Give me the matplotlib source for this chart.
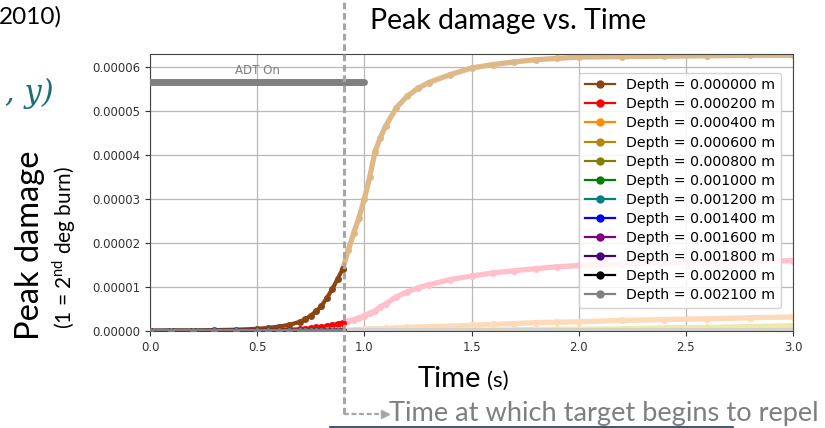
import numpy as np
import matplotlib.pyplot as plt
from matplotlib.lines import Line2D
from matplotlib.ticker import FormatStrFormatter
import matplotlib.transforms as mtransforms

plt.rcParams['font.family'] = 'DejaVu Sans'

W, H = 825, 428
SCALE = 1e-5  # values below are in units of 1e-5

depths = ['0.000000', '0.000200', '0.000400', '0.000600', '0.000800', '0.001000',
          '0.001200', '0.001400', '0.001600', '0.001800', '0.002000', '0.002100']
colors_pre = ['#8B4513', 'red', 'darkorange', 'darkgoldenrod', 'olive', 'green',
              'teal', 'blue', 'purple', 'indigo', 'black', 'gray']
colors_post = ['burlywood', 'pink', 'peachpuff', 'palegoldenrod', 'khaki', 'lightgreen',
               'paleturquoise', 'lightblue', 'plum', 'thistle', 'lightgray', 'lightgray']

# before the target repels
t_pre = [0.0, 0.1, 0.2, 0.3, 0.4, 0.5, 0.55, 0.6, 0.65, 0.7, 0.725, 0.75,
         0.775, 0.8, 0.825, 0.85, 0.875, 0.9]
pre_d0 = [0.0, 0.01, 0.01, 0.02, 0.03, 0.05, 0.07, 0.10, 0.14, 0.21, 0.27, 0.35,
          0.45, 0.57, 0.75, 0.95, 1.18, 1.42]
pre_d1 = [0.0, 0.0, 0.0, 0.0, 0.0, 0.01, 0.01, 0.02, 0.03, 0.04, 0.05, 0.06,
          0.08, 0.09, 0.11, 0.13, 0.16, 0.19]
pre_d2 = [0.0, 0.0, 0.0, 0.0, 0.0, 0.0, 0.0, 0.0, 0.0, 0.01, 0.01, 0.01,
          0.01, 0.01, 0.02, 0.02, 0.02, 0.02]
pre_deep = [0.0] * len(t_pre)

# after the target repels
t_post = [0.9, 0.925, 0.95, 0.975, 1.0, 1.025, 1.05, 1.075, 1.1, 1.15, 1.2, 1.25,
          1.3, 1.4, 1.5, 1.6, 1.7, 1.8, 1.9, 2.0, 2.2, 2.4, 2.6, 2.8, 3.0]
post_d0 = [1.42, 1.84, 2.22, 2.58, 3.00, 3.50, 4.08, 4.40, 4.67, 5.08, 5.34, 5.52,
           5.65, 5.83, 5.98, 6.06, 6.12, 6.17, 6.20, 6.23, 6.24, 6.25, 6.26, 6.27, 6.27]
post_d1 = [0.19, 0.22, 0.26, 0.30, 0.35, 0.40, 0.46, 0.55, 0.62, 0.78, 0.89, 0.98,
           1.05, 1.17, 1.25, 1.32, 1.37, 1.42, 1.46, 1.49, 1.53, 1.55, 1.57, 1.58, 1.60]
post_d2 = [0.02, 0.02, 0.03, 0.03, 0.04, 0.04, 0.05, 0.05, 0.06, 0.07, 0.08, 0.09,
           0.10, 0.11, 0.13, 0.15, 0.17, 0.19, 0.20, 0.21, 0.24, 0.26, 0.28, 0.30, 0.32]
post_d3 = [0.0, 0.0, 0.0, 0.0, 0.0, 0.0, 0.0, 0.0, 0.0, 0.01, 0.01, 0.01,
           0.01, 0.02, 0.02, 0.02, 0.03, 0.03, 0.04, 0.04, 0.05, 0.07, 0.08, 0.10, 0.12]
post_deep = [0.0] * len(t_post)

pre_all = [pre_d0, pre_d1, pre_d2] + [pre_deep] * 9
post_all = [post_d0, post_d1, post_d2, post_d3] + [post_deep] * 8

repel_t = 0.905
adt_level = 5.66
adt_end = 1.0

fig = plt.figure(figsize=(W / 100, H / 100), dpi=100)
ax = fig.add_axes([150 / W, 1 - 331 / H, (793 - 150) / W, (331 - 54) / H])

handles = []
for i in range(len(depths)):
    ax.plot(t_post, np.array(post_all[i]) * SCALE, color=colors_post[i],
            lw=3.8, marker='o', ms=4, zorder=2)
for i in range(len(depths)):
    h, = ax.plot(t_pre, np.array(pre_all[i]) * SCALE, color=colors_pre[i],
                 lw=3, marker='o', ms=4, zorder=3,
                 label='Depth = %s m' % depths[i])
    handles.append(h)

# ADT On bar
ax.plot([0, adt_end], [adt_level * SCALE] * 2, color='gray', lw=5,
        solid_capstyle='round', zorder=3)
ax.text(adt_end / 2, (adt_level + 0.27) * SCALE, 'ADT On', color='gray',
        fontsize=8.5, ha='center', va='center')

ax.set_xlim(0, 3.0)
ax.set_ylim(0, 6.3e-5)
ax.set_xticks([0.0, 0.5, 1.0, 1.5, 2.0, 2.5, 3.0])
ax.set_yticks(np.arange(0, 7) * 1e-5)
ax.yaxis.set_major_formatter(FormatStrFormatter('%.5f'))
ax.xaxis.set_major_formatter(FormatStrFormatter('%.1f'))
ax.tick_params(labelsize=8.5, colors='#333333')
ax.grid(True, color='#b8b8b8', lw=0.9)
for s in ax.spines.values():
    s.set_color('#444444')

leg = ax.legend(handles=handles, loc='upper right', bbox_to_anchor=(0.981, 0.933),
                borderaxespad=0, fontsize=10.2, labelspacing=0.36, framealpha=0.85,
                handlelength=2.1)
for line in leg.get_lines():
    line.set_linewidth(1.6)
    line.set_markersize(5)

# repel marker line
trans = mtransforms.blended_transform_factory(ax.transData, ax.transAxes)
ybot = (331 - 414) / 277
ax.plot([repel_t, repel_t], [ybot, 331 / 277], transform=trans, color='#a6a6a6',
        lw=2.2, ls=(0, (2.2, 1.2)), clip_on=False, zorder=5)
arrow_end = (385 - 150) / 214.3
ax.plot([repel_t, arrow_end], [ybot, ybot], transform=trans, color='#a6a6a6',
        lw=1.6, ls=(0, (2.2, 1.2)), clip_on=False)
ax.plot([arrow_end], [ybot], transform=trans, color='#a6a6a6', marker='>', ms=6,
        clip_on=False)

slide = 'Lato'
fig.text(389 / W, 1 - 413 / H, 'Time at which target begins to repel', family=slide,
         fontsize=19.6, color='#7f7f7f', va='center', ha='left')
fig.text(508 / W, 1 - 21 / H, 'Peak damage vs. Time', family=slide, fontsize=20.5,
         ha='center', va='center')
fig.text(418 / W, 1 - 379 / H, 'Time', family=slide, fontsize=21, ha='left', va='center')
fig.text(487 / W, 1 - 381 / H, '(s)', family=slide, fontsize=16, ha='left', va='center')
fig.text(30 / W, 1 - 245 / H, 'Peak damage', family=slide, fontsize=23.5, rotation=90,
         ha='center', va='center')
fig.text(64 / W, 1 - 247 / H, '(1 = 2$^{\\mathregular{nd}}$ deg burn)', family=slide,
         fontsize=15, rotation=90, ha='center', va='center')
fig.text(-1 / W, 1 - 17 / H, '2010)', family=slide, fontsize=17.5, ha='left', va='center')
fig.text(5 / W, 1 - 93 / H, ', y)', family='DejaVu Serif', style='italic',
         fontsize=22, color='#1b6e73', ha='left', va='center')
fig.add_artist(Line2D([330 / W, 733 / W], [1 - 427 / H] * 2, color='#1f3864', lw=1.2))

fig.savefig('out.png', dpi=100)
